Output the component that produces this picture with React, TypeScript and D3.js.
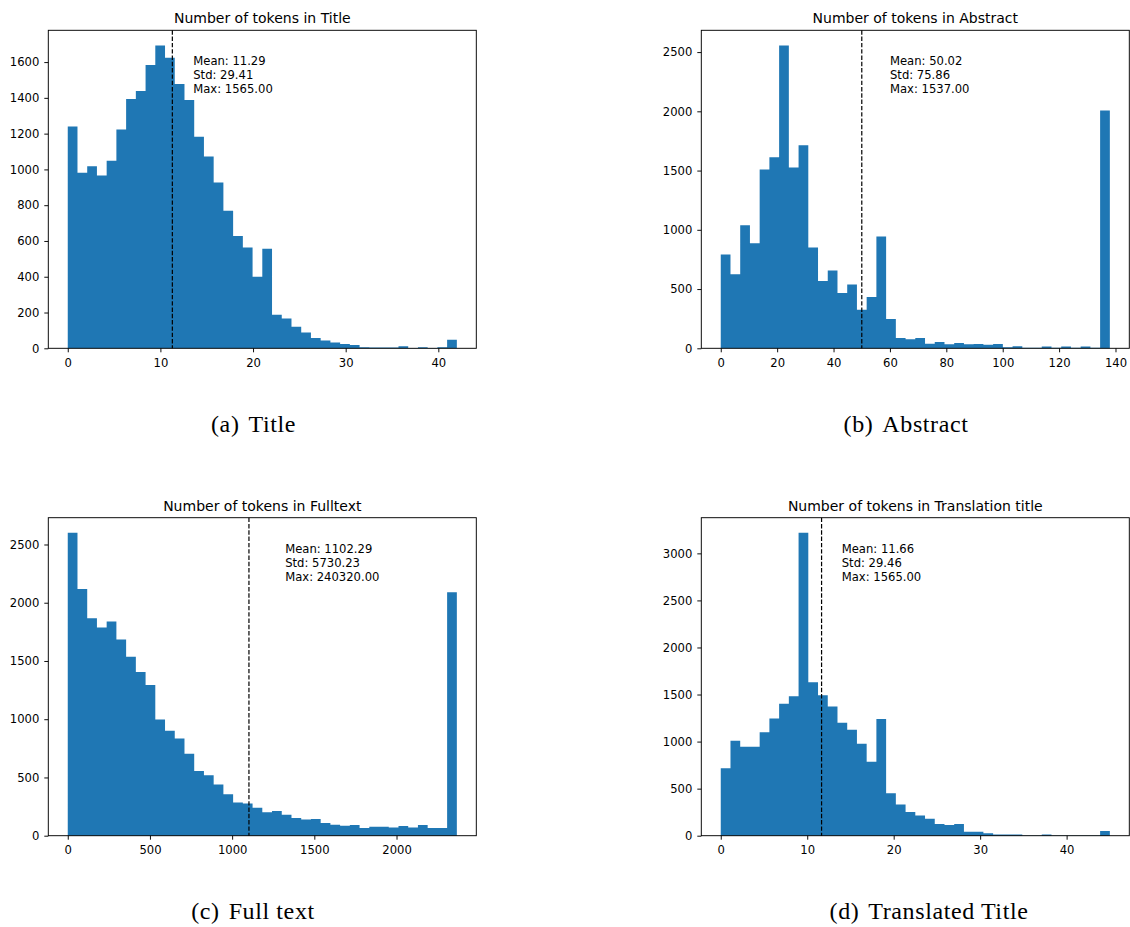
import React, { useEffect, useRef } from 'react';
import * as d3 from 'd3';

// Histogram counts (40 bins per panel, from 0 to the bin max).
const titleCounts = [1240, 981, 1018, 966, 1048, 1223, 1394, 1438, 1583, 1693, 1624, 1477, 1388, 1182, 1072, 927, 769, 628, 563, 400, 557, 188, 167, 121, 89, 58, 43, 33, 24, 19, 6, 4, 4, 4, 11, 2, 6, 2, 6, 48];
const abstractCounts = [791, 626, 1038, 887, 1510, 1613, 2556, 1526, 1714, 850, 567, 657, 466, 539, 325, 432, 943, 247, 87, 76, 87, 39, 53, 34, 45, 34, 36, 31, 36, 8, 17, 5, 5, 15, 5, 15, 4, 15, 5, 2006];
const fulltextCounts = [2600, 2118, 1867, 1787, 1839, 1685, 1536, 1405, 1294, 998, 901, 835, 704, 556, 519, 439, 356, 285, 277, 239, 202, 211, 180, 151, 140, 143, 108, 94, 86, 91, 66, 77, 77, 71, 83, 71, 91, 66, 66, 2089];
const translationCounts = [716, 1009, 946, 946, 1098, 1246, 1401, 1482, 3218, 1630, 1493, 1373, 1200, 1126, 978, 787, 1239, 452, 332, 251, 215, 180, 124, 113, 124, 42, 42, 25, 14, 14, 14, 3, 3, 14, 2, 2, 2, 2, 2, 49];

// Upper edge of the last bin for each histogram.
const binMax = [42, 138, 2367, 45];

// Summary stats printed in each panel.
const means = [11.29, 50.02, 1102.29, 11.66];
const stds = [29.41, 75.86, 5730.23, 29.46];
const maxes = [1565.0, 1537.0, 240320.0, 1565.0];

const titles = ['Title', 'Abstract', 'Fulltext', 'Translation title'];
const captionTags = ['(a)', '(b)', '(c)', '(d)'];
const captionNames = ['Title', 'Abstract', 'Full text', 'Translated Title'];

const xTicks = [
  [0, 10, 20, 30, 40],
  [0, 20, 40, 60, 80, 100, 120, 140],
  [0, 500, 1000, 1500, 2000],
  [0, 10, 20, 30, 40],
];
const yTicks = [
  [0, 200, 400, 600, 800, 1000, 1200, 1400, 1600],
  [0, 500, 1000, 1500, 2000, 2500],
  [0, 500, 1000, 1500, 2000, 2500],
  [0, 500, 1000, 1500, 2000, 2500, 3000],
];

const allCounts = [titleCounts, abstractCounts, fulltextCounts, translationCounts];

// Where each axes box sits on the page, plus caption placement.
const layout = [
  { left: 48.3, top: 30.3, capX: 253.5, capY: 432 },
  { left: 701.3, top: 30.3, capX: 906, capY: 432 },
  { left: 48.3, top: 517.7, capX: 253, capY: 919 },
  { left: 701.3, top: 517.7, capX: 929, capY: 919 },
];
const plotW = 428;
const plotH = 318;

const BLUE = '#1f77b4';
const SANS = '"DejaVu Sans", sans-serif';

const App = () => {
  const svgRef = useRef<SVGSVGElement>(null);

  useEffect(() => {
    const svg = d3.select(svgRef.current);
    svg.selectAll('*').remove();

    allCounts.forEach((counts, p) => {
      const { left, top, capX, capY } = layout[p];
      const nBins = counts.length;
      const hi = binMax[p];
      const edges = d3.range(nBins + 1).map((i) => (hi * i) / nBins);

      // matplotlib-style 5% margins on x, 5% headroom on y
      const pad = hi * 0.05;
      const x = d3.scaleLinear().domain([-pad, hi + pad]).range([0, plotW]);
      const y = d3
        .scaleLinear()
        .domain([0, d3.max(counts)! * 1.05])
        .range([plotH, 0]);

      const g = svg.append('g').attr('transform', `translate(${left},${top})`);

      // bars: one stepped area per histogram, so neighbouring bins show no seams
      const steps = edges.map((e, i) => ({ e, c: counts[Math.min(i, nBins - 1)] }));
      const area = d3
        .area<{ e: number; c: number }>()
        .curve(d3.curveStepAfter)
        .x((d) => x(d.e))
        .y0(plotH)
        .y1((d) => y(d.c));
      g.append('path').datum(steps).attr('d', area).attr('fill', BLUE);

      // mean line
      g.append('line')
        .attr('x1', x(means[p]))
        .attr('x2', x(means[p]))
        .attr('y1', 0)
        .attr('y2', plotH)
        .attr('stroke', '#000')
        .attr('stroke-width', 1.2)
        .attr('stroke-dasharray', '4.4,1.9');

      // axes
      const xAxis = g
        .append('g')
        .attr('transform', `translate(0,${plotH})`)
        .call(d3.axisBottom(x).tickValues(xTicks[p]).tickFormat(d3.format('d')).tickSize(4).tickSizeOuter(0).tickPadding(6));
      const yAxis = g
        .append('g')
        .call(d3.axisLeft(y).tickValues(yTicks[p]).tickFormat(d3.format('d')).tickSize(4).tickSizeOuter(0).tickPadding(5));
      [xAxis, yAxis].forEach((a) => {
        a.select('.domain').remove();
        a.selectAll('line').attr('stroke', '#000').attr('stroke-width', 0.95);
        a.selectAll('text').attr('fill', '#000').style('font-family', SANS).style('font-size', '11.6px');
      });

      // frame
      g.append('rect')
        .attr('width', plotW)
        .attr('height', plotH)
        .attr('fill', 'none')
        .attr('stroke', '#000')
        .attr('stroke-width', 0.95);

      // title
      g.append('text')
        .attr('x', plotW / 2)
        .attr('y', -7)
        .attr('text-anchor', 'middle')
        .style('font-family', SANS)
        .style('font-size', '14px')
        .text(`Number of tokens in ${titles[p]}`);

      // stats text
      const lines = [
        `Mean: ${means[p].toFixed(2)}`,
        `Std: ${stds[p].toFixed(2)}`,
        `Max: ${maxes[p].toFixed(2)}`,
      ];
      g.selectAll('.stat')
        .data(lines)
        .enter()
        .append('text')
        .attr('x', x(means[p] * 1.2))
        .attr('y', (_, i) => 35.2 + i * 14)
        .style('font-family', SANS)
        .style('font-size', '11.6px')
        .attr('fill', '#000')
        .text((d) => d);

      // caption under the subfigure
      const cap = svg
        .append('text')
        .attr('x', capX)
        .attr('y', capY)
        .attr('text-anchor', 'middle')
        .style('font-family', '"Liberation Serif", serif')
        .style('font-size', '24px')
        .style('letter-spacing', '0.6px')
        .attr('fill', '#000');
      cap.append('tspan').text(captionTags[p]);
      cap.append('tspan').attr('dx', 9).text(captionNames[p]);
    });
  }, []);

  return (
    <svg
      ref={svgRef}
      width={1130}
      height={927}
      style={{ position: 'absolute', left: 0, top: 0, background: '#fff' }}
    ></svg>
  );
};

export default App;
